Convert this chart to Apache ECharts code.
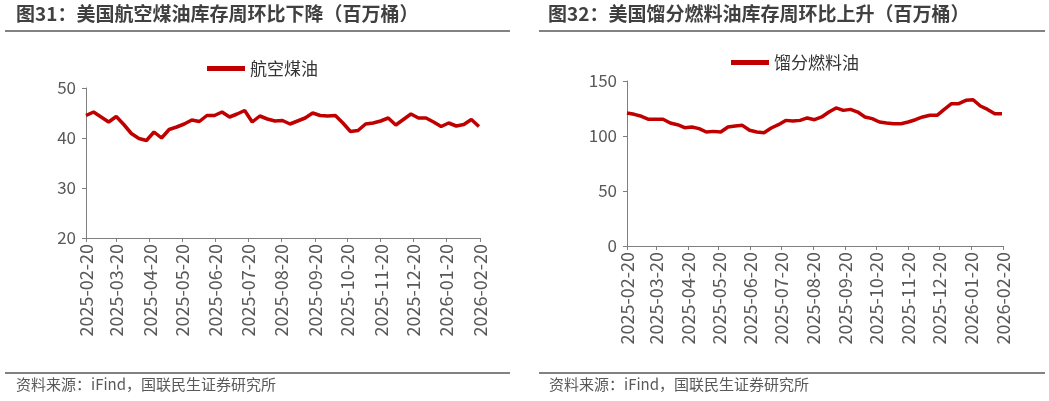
<!DOCTYPE html>
<html>
<head>
<meta charset="utf-8">
<script src="https://cdn.jsdelivr.net/npm/echarts@6/dist/echarts.min.js"></script>
</head>
<body style="margin:0;background:#fff">
<div id="main" style="width:1049px;height:401px;"></div>
<script type="text/javascript">
    // 周度数据，起始日期 2025-02-20
    var startDate = '2025-02-20';
    var endDate = '2026-02-20';
    var jetFuel = [44.5, 45.2, 44.2, 43.2, 44.3, 42.7, 40.9, 39.9, 39.5, 41.2, 40.0, 41.7, 42.2, 42.8,
        43.6, 43.3, 44.5, 44.5, 45.2, 44.2, 44.8, 45.5, 43.2, 44.4, 43.8, 43.4, 43.5, 42.8, 43.4, 44.0,
        45.0, 44.5, 44.4, 44.5, 43.0, 41.3, 41.5, 42.8, 43.0, 43.4, 44.0, 42.6, 43.7, 44.8, 44.0, 44.0,
        43.2, 42.3, 43.0, 42.4, 42.7, 43.7, 42.3];
    var distillate = [120.9, 119.7, 117.9, 115.2, 115.2, 115.2, 111.8, 110.3, 107.6, 108.2, 106.7, 103.6,
        104.2, 103.6, 108.2, 109.1, 109.7, 105.2, 103.6, 103.0, 107.3, 110.3, 114.2, 113.6, 114.2, 116.4,
        114.8, 117.3, 121.8, 125.5, 123.3, 124.2, 121.8, 117.3, 115.8, 112.7, 111.8, 111.2, 111.2, 112.7,
        114.8, 117.3, 118.8, 118.8, 124.2, 129.4, 129.4, 132.4, 133.0, 127.3, 124.2, 120.3, 120.3];

    function fmt(d) {
        var m = d.getUTCMonth() + 1, day = d.getUTCDate();
        return d.getUTCFullYear() + '-' + (m < 10 ? '0' : '') + m + '-' + (day < 10 ? '0' : '') + day;
    }
    // 逐日类目，便于在每月20日显示标签
    var days = [];
    var t0 = Date.parse(startDate + 'T00:00:00Z'), t1 = Date.parse(endDate + 'T00:00:00Z');
    for (var t = t0; t <= t1; t += 86400000) days.push(fmt(new Date(t)));
    function weekly(arr) {
        return arr.map(function (v, i) { return [fmt(new Date(t0 + i * 7 * 86400000)), v]; });
    }

    var red = '#c00000', grey = '#595959';
    var font = '"Noto Sans CJK SC", sans-serif';
    function xAxis(idx) {
        return {
            type: 'category', gridIndex: idx, data: days, boundaryGap: false,
            axisLine: { lineStyle: { color: '#7f7f7f' } },
            axisTick: { interval: function (i, v) { return v.slice(8) === '20'; }, length: 4, lineStyle: { color: '#7f7f7f' } },
            axisLabel: { interval: function (i, v) { return v.slice(8) === '20'; }, rotate: 90, color: grey,
                fontSize: 18, fontFamily: font, margin: 6 }
        };
    }
    function yAxis(idx, min, max, step) {
        return {
            type: 'value', gridIndex: idx, min: min, max: max, interval: step,
            splitLine: { show: false },
            axisLine: { show: true, lineStyle: { color: '#7f7f7f' } },
            axisTick: { show: true, inside: false, length: 4, lineStyle: { color: '#7f7f7f' } },
            axisLabel: { color: grey, fontSize: 17, fontFamily: font, margin: 10 }
        };
    }
    function series(name, idx, arr) {
        return { name: name, type: 'line', xAxisIndex: idx, yAxisIndex: idx, data: weekly(arr),
            showSymbol: false, lineStyle: { color: red, width: 3.5 }, itemStyle: { color: red } };
    }

    var myChart = echarts.init(document.getElementById('main'));
    var option = {
        animation: false,
        grid: [
            { left: 86, top: 88, width: 394, height: 150 },
            { left: 627, top: 81, width: 376, height: 165 }
        ],
        legend: [
            { data: ['航空煤油'], left: 202, top: 55, itemWidth: 38, itemHeight: 5, icon: 'rect',
              textStyle: { fontSize: 17, color: '#333', fontFamily: font } },
            { data: ['馏分燃料油'], left: 726, top: 49, itemWidth: 38, itemHeight: 5, icon: 'rect',
              textStyle: { fontSize: 17, color: '#333', fontFamily: font } }
        ],
        xAxis: [xAxis(0), xAxis(1)],
        yAxis: [yAxis(0, 20, 50, 10), yAxis(1, 0, 150, 50)],
        series: [series('航空煤油', 0, jetFuel), series('馏分燃料油', 1, distillate)],
        graphic: [
            { type: 'text', left: 16, top: 4, style: { text: '图31：美国航空煤油库存周环比下降（百万桶）', fontSize: 19, fontWeight: 'bold', fill: '#404040', fontFamily: font } },
            { type: 'text', left: 548, top: 4, style: { text: '图32：美国馏分燃料油库存周环比上升（百万桶）', fontSize: 19, fontWeight: 'bold', fill: '#404040', fontFamily: font } },
            { type: 'line', shape: { x1: 5, y1: 31, x2: 510, y2: 31 }, style: { stroke: '#595959', lineWidth: 1.5 } },
            { type: 'line', shape: { x1: 539, y1: 31, x2: 1045, y2: 31 }, style: { stroke: '#595959', lineWidth: 1.5 } },
            { type: 'line', shape: { x1: 5, y1: 373, x2: 510, y2: 373 }, style: { stroke: '#595959', lineWidth: 1.5 } },
            { type: 'line', shape: { x1: 539, y1: 373, x2: 1045, y2: 373 }, style: { stroke: '#595959', lineWidth: 1.5 } },
            { type: 'text', left: 16, top: 377, style: { text: '资料来源：iFind，国联民生证券研究所', fontSize: 15, fill: '#595959', fontFamily: font } },
            { type: 'text', left: 549, top: 377, style: { text: '资料来源：iFind，国联民生证券研究所', fontSize: 15, fill: '#595959', fontFamily: font } }
        ]
    };
    myChart.setOption(option);
</script>
</body>
</html>
